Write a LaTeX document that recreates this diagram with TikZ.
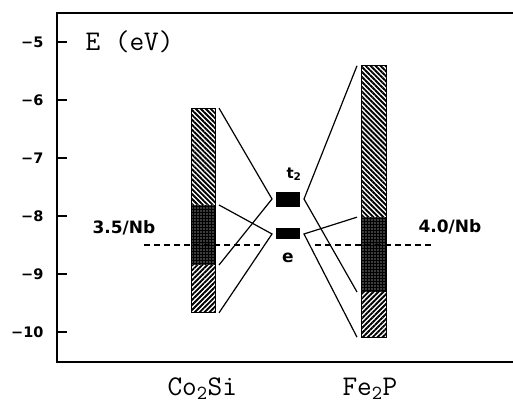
\documentclass[tikz,border=0pt]{standalone}
\usepackage{fontspec}
\setsansfont{DejaVu Sans}
\usetikzlibrary{patterns.meta}

\begin{document}
\begin{tikzpicture}[x=1pt, y=58pt,
    frame/.style={line width=2pt},
    bond/.style={line width=1.2pt},
    level/.style={rectangle, fill=black, minimum width=24pt, inner sep=0pt, outer xsep=4pt},
    hatchdown/.style={pattern={Lines[angle=-45,distance=3.5pt,line width=1.9pt]}},
    hatchup/.style={pattern={Lines[angle=45,distance=3.5pt,line width=1.9pt]}},
    dotfill/.style={pattern={Dots[distance=3pt,radius=0.6pt]}, pattern color=white},
    ticklbl/.style={font=\sffamily\bfseries\fontsize{14.5}{14.5}\selectfont, anchor=east},
    sflbl/.style={font=\sffamily\bfseries\fontsize{17}{17}\selectfont, anchor=base west},
    ttlbl/.style={font=\ttfamily\fontsize{28.5}{28.5}\selectfont, anchor=base west}]
  \useasboundingbox (0,-11.224) rectangle (513,-4.276);

  % axis frame and ticks
  \draw[frame] (513,-4.5) -- (57,-4.5) -- (57,-10.52) -- (513,-10.52);
  \foreach \e in {5,...,10} {
    \draw[frame] (57,-\e) -- (67,-\e);
    \node[ticklbl] (tk\e) at (47,-\e) {−\e};
  }
  \node[ttlbl] (axis) at (82,-5.14) {E (eV)};

  % Co2Si band
  \path[hatchdown] (191,-6.14) rectangle (215,-7.81);
  \fill (191,-7.81) rectangle (215,-8.845);
  \path[dotfill] (191,-7.81) rectangle (215,-8.845);
  \path[hatchup] (191,-8.845) rectangle (215,-9.67);
  \draw[line width=1pt] (191,-6.14) rectangle (215,-9.67);

  % Fe2P band
  \path[hatchdown] (361,-5.41) rectangle (386,-8.02);
  \fill (361,-8.02) rectangle (386,-9.31);
  \path[dotfill] (361,-8.02) rectangle (386,-9.31);
  \path[hatchup] (361,-9.31) rectangle (386,-10.09);
  \draw[line width=1pt] (361,-5.41) rectangle (386,-10.09);

  % band edges
  \coordinate (cs1) at (219,-6.14);
  \coordinate (cs2) at (219,-7.81);
  \coordinate (cs3) at (219,-8.845);
  \coordinate (cs4) at (219,-9.67);
  \coordinate (fp1) at (357,-5.41);
  \coordinate (fp2) at (357,-8.02);
  \coordinate (fp3) at (357,-9.31);
  \coordinate (fp4) at (357,-10.09);

  % Nb levels
  \node[level, minimum height=15pt] (t2) at (288,-7.707) {};
  \node[level, minimum height=11pt] (e) at (288,-8.31) {};
  \node[sflbl, font=\sffamily\bfseries\fontsize{15}{15}\selectfont] (t2lbl) at (283,-7.345) {t\textsubscript{2}};
  \node[sflbl, anchor=base] (elbl) at (288,-8.81) {e};

  \draw[bond] (cs1) -- (t2.west) -- (cs3);
  \draw[bond] (cs2) -- (e.west) -- (cs4);
  \draw[bond] (fp1) -- (t2.east) -- (fp3);
  \draw[bond] (fp2) -- (e.east) -- (fp4);

  % Fermi levels
  \coordinate (efl1) at (144,-8.5);
  \coordinate (efl2) at (263,-8.5);
  \coordinate (efr1) at (315,-8.5);
  \coordinate (efr2) at (432,-8.5);
  \draw[line width=1.2pt, dash pattern=on 6pt off 4pt] (efl1) -- (efl2);
  \draw[line width=1.2pt, dash pattern=on 6pt off 4pt] (efr1) -- (efr2);
  \node[sflbl] (nb35) at (89,-8.31) {3.5/Nb};
  \node[sflbl] (nb40) at (415,-8.29) {4.0/Nb};

  % compounds
  \node[ttlbl] (cosi) at (164,-11.09) {Co\textsubscript{2}Si};
  \node[ttlbl] (fep) at (339,-11.09) {Fe\textsubscript{2}P};
\end{tikzpicture}
\end{document}
